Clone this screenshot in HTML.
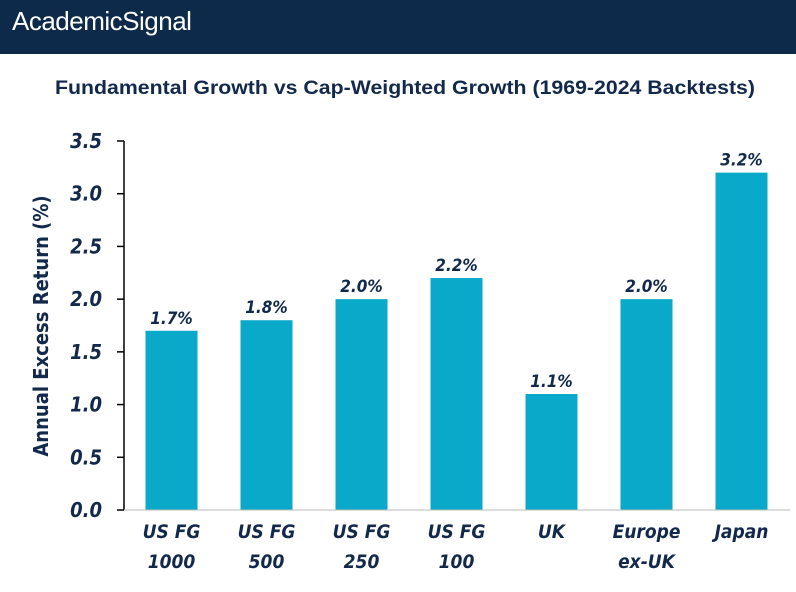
<!DOCTYPE html>
<html><head><meta charset="utf-8"><style>
body{margin:0;width:796px;height:592px;background:#fff;overflow:hidden;font-family:"Liberation Sans",sans-serif}
#hdr{position:absolute;left:0;top:0;width:796px;height:54px;background:#0d2a4a}
#logo{position:absolute;left:12px;top:6px;color:#fff;font-size:26px;letter-spacing:-0.5px}
</style></head><body>
<div id="hdr"><div id="logo">AcademicSignal</div></div>
<svg id="c" width="796" height="592" style="position:absolute;left:0;top:0">
<text x="55" y="94" textLength="700" lengthAdjust="spacingAndGlyphs" font-size="19" font-weight="bold" fill="#13294b" font-family="Liberation Sans">Fundamental Growth vs Cap-Weighted Growth (1969-2024 Backtests)</text>
<text transform="translate(48,326) rotate(-90)" text-anchor="middle" font-size="20" font-weight="bold" fill="#13294b" font-family="DejaVu Sans Condensed, DejaVu Sans">Annual Excess Return (%)</text>
</svg>
<script>
const categories=[["US FG","1000"],["US FG","500"],["US FG","250"],["US FG","100"],["UK"],["Europe","ex-UK"],["Japan"]];
const values=[1.7,1.8,2.0,2.2,1.1,2.0,3.2];
const ticks=[0,0.5,1.0,1.5,2.0,2.5,3.0,3.5];
const svg=document.getElementById('c');const NS='http://www.w3.org/2000/svg';
const y0=510,y1=141,vmax=3.5,left=124,band=95,bw=52;
const y=v=>y0-(v/vmax)*(y0-y1);
const x=i=>left+band*(i+0.5);
function mk(t,a,txt){const e=document.createElementNS(NS,t);for(const k in a)e.setAttribute(k,a[k]);if(txt!=null)e.textContent=txt;svg.appendChild(e);return e;}
let e=mk('line',{x1:left,x2:left,y1:y1,y2:y0,stroke:'#000','stroke-width':1.5});


ticks.forEach(t=>{
 let l=mk('line',{x1:left-7,x2:left,y1:y(t),y2:y(t),stroke:'#000','stroke-width':1.5});
 
 
 let tx=mk('text',{x:left-22,y:y(t)+7,'text-anchor':'end','font-size':20,'font-weight':'bold','font-style':'italic',fill:'#13294b','font-family':'DejaVu Sans Condensed, DejaVu Sans, sans-serif'},t.toFixed(1));
 
 
});
values.forEach((v,i)=>{
 let r=mk('rect',{x:x(i)-bw/2,y:y(v),width:bw,height:y0-y(v),fill:'#0aa9c9'});
 
 
 let t=mk('text',{x:x(i),y:y(v)-7,'text-anchor':'middle','font-size':17,'font-weight':'bold','font-style':'italic',fill:'#13294b','font-family':'DejaVu Sans Condensed, DejaVu Sans, sans-serif'},v.toFixed(1)+'%');
 
 
 categories[i].forEach((s,j)=>{
  let c=mk('text',{x:x(i),y:538+j*30,'text-anchor':'middle','font-size':19,'font-weight':'bold','font-style':'italic',fill:'#13294b','font-family':'DejaVu Sans Condensed, DejaVu Sans, sans-serif'},s);
  
  
 });
});
let b=mk('line',{x1:left,x2:790,y1:y0,y2:y0,stroke:'#bbb','stroke-width':1});


</script>
</body></html>
